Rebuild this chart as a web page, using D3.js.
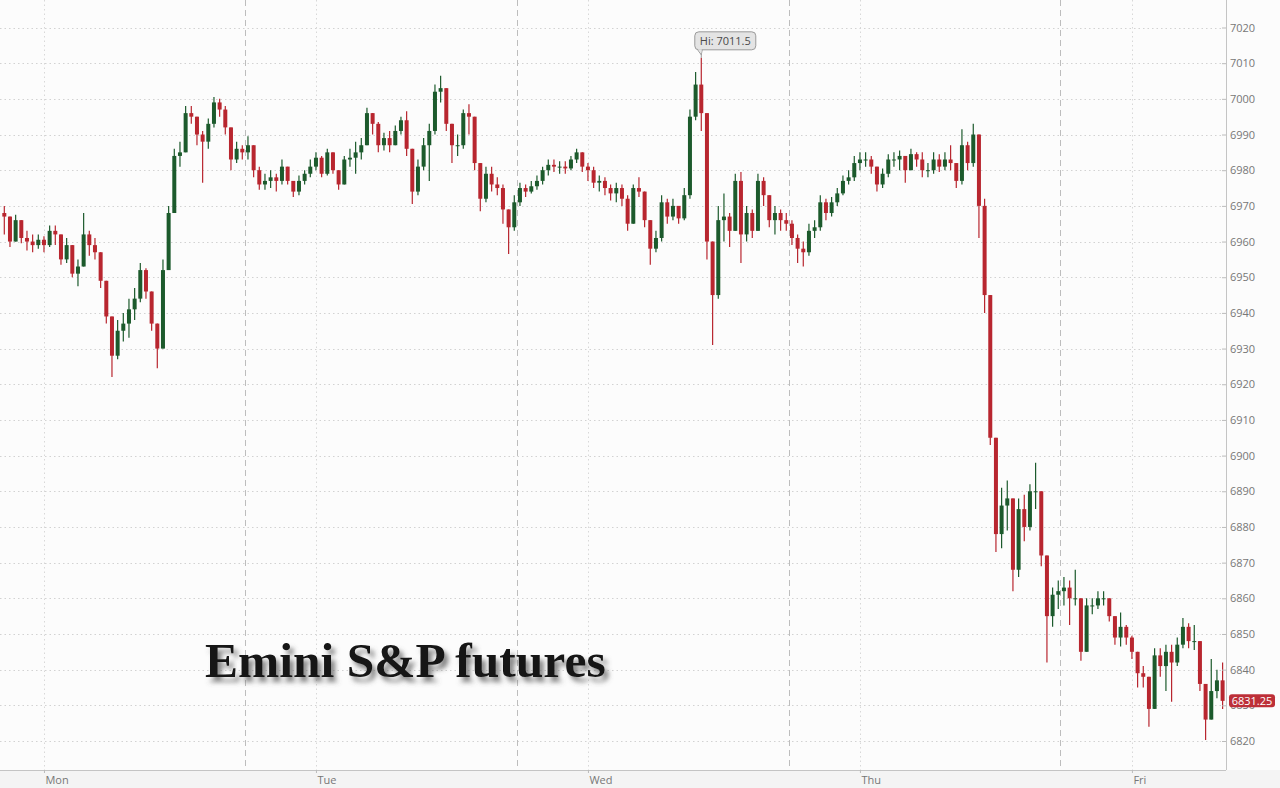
<!DOCTYPE html>
<html>
<head>
<meta charset="utf-8">
<script src="https://cdn.jsdelivr.net/npm/d3@7"></script>
<style>
  html, body { margin: 0; padding: 0; background: #fcfcfc; }
  svg { display: block; }
  .axis text { font-family: "Open Sans", "Noto Sans", sans-serif; font-size: 11px; fill: #777; }
</style>
</head>
<body>
<div class="graph"><svg id="chart"></svg></div>
<script>
'use strict'

// half-hour candles, hours counted from Monday 00:00
const firstCandleHour = -3.5
const candleHours = 0.5
const firstOpen = 6968

const closes = [
  6967, 6960, 6966, 6961, 6960, 6959, 6960.5, 6959, 6963, 6962, 6955, 6959, 6951, 6953, 6962, 6959,
  6957, 6949, 6939, 6928, 6935, 6937, 6941, 6944, 6952, 6946, 6937, 6930, 6952, 6968, 6984, 6985,
  6996, 6995, 6990, 6988, 6993, 6999, 6997, 6992, 6983, 6986, 6985, 6987, 6980, 6976, 6977, 6978,
  6977, 6981, 6977, 6974, 6977, 6979, 6981, 6983.5, 6979, 6985, 6980, 6976, 6983, 6983.5, 6985, 6987,
  6996, 6993, 6987, 6989, 6987, 6991, 6994, 6986, 6974, 6981, 6987, 6991, 7002, 7003, 6993, 6987,
  6987, 6996, 6995, 6982, 6972, 6979, 6976, 6975, 6969, 6964, 6971, 6975, 6974, 6975.5, 6977, 6980,
  6981.5, 6981, 6981, 6980.5, 6983, 6985, 6981, 6980, 6976.5, 6977, 6975, 6973.5, 6975, 6972, 6965, 6975,
  6974, 6966, 6958, 6961, 6971, 6967, 6970, 6966.5, 6973, 6995, 7004, 6996, 6960, 6945, 6966, 6967,
  6963, 6977, 6962, 6968, 6963, 6977, 6973, 6966, 6968, 6966, 6965, 6961, 6958, 6957, 6963, 6964,
  6971, 6968, 6971, 6973.5, 6977, 6978, 6982, 6983, 6983, 6981, 6976, 6979, 6983, 6983, 6984, 6980,
  6984.5, 6983, 6980, 6980, 6983, 6981, 6983, 6982, 6977, 6987, 6982, 6990, 6970, 6945, 6905, 6878,
  6886, 6888, 6868, 6885, 6880, 6890, 6890, 6872, 6855, 6861, 6862, 6863, 6860, 6860, 6845, 6858,
  6858, 6860, 6860, 6855, 6849, 6852, 6849, 6845, 6839, 6838, 6829, 6844, 6841, 6845, 6842, 6847,
  6852, 6848, 6848, 6836, 6826, 6834, 6837, 6831.25
]

const highs = [
  6970, 6966, 6967.5, 6966, 6963, 6962, 6962, 6961.5, 6964.5, 6964.5, 6962, 6961, 6959, 6955, 6968, 6963,
  6961, 6957, 6949, 6939, 6938, 6940, 6944, 6947, 6954, 6952.5, 6946, 6937, 6955, 6970, 6986, 6988,
  6998, 6998, 6995, 6991, 6994.5, 7000.5, 7000, 6998, 6992, 6988, 6987, 6989.5, 6987, 6981, 6979, 6980,
  6979, 6983, 6981, 6977, 6978.5, 6980, 6983, 6985, 6984, 6986, 6985, 6980, 6984, 6986, 6988, 6989,
  6997.5, 6996, 6993.5, 6990.5, 6991, 6992.5, 6995, 6996.5, 6986, 6983, 6989, 6993, 7004, 7006.5, 7003, 6993,
  6990, 6997, 6998.5, 6995, 6982, 6981, 6981, 6978, 6976, 6968, 6973, 6976.5, 6976, 6977, 6978.5, 6981,
  6983, 6983, 6982.5, 6982.5, 6984, 6986, 6985, 6982, 6981, 6978.5, 6978, 6976, 6976.5, 6976, 6973, 6976,
  6978, 6974, 6966, 6963, 6973, 6972, 6972, 6970, 6975, 6997, 7007.5, 7011.5, 6996, 6960, 6970, 6973.5,
  6968, 6979, 6979.5, 6970, 6969, 6979, 6978, 6973, 6970, 6969, 6968, 6966, 6962, 6960, 6965, 6966,
  6973, 6972, 6972.5, 6975, 6978.5, 6980, 6984, 6985, 6985, 6984, 6981, 6980.5, 6984.5, 6985, 6985.5, 6984,
  6986, 6985, 6985, 6982, 6985, 6984.5, 6985, 6987, 6982, 6991.5, 6988, 6993, 6990, 6972, 6945, 6905,
  6891, 6893, 6888, 6888, 6889, 6892, 6898, 6890, 6872, 6863, 6865, 6866, 6865, 6868, 6860, 6860,
  6860, 6862, 6862, 6860, 6855, 6856, 6852.5, 6849.5, 6845, 6841, 6838, 6846, 6846, 6847, 6847, 6849,
  6854.5, 6853, 6852.5, 6848, 6836, 6843, 6840, 6842
]

const lows = [
  6962, 6958.5, 6960, 6959.5, 6957.5, 6957, 6958, 6957, 6958.5, 6959, 6953.5, 6954, 6950, 6947.5, 6953, 6956,
  6955, 6947, 6937, 6922, 6927, 6932, 6933, 6938, 6943, 6944, 6935, 6924.5, 6930, 6952, 6968, 6981,
  6985, 6993, 6987, 6976.5, 6986, 6992, 6995, 6990, 6980, 6982, 6983, 6983, 6978, 6974.5, 6974.5, 6975,
  6974, 6976, 6976, 6972.5, 6973, 6976, 6978, 6980, 6978, 6978.5, 6979, 6974.5, 6976, 6981, 6979, 6983,
  6987, 6990, 6985, 6985.5, 6985, 6987, 6990, 6984, 6970.5, 6973, 6980, 6977, 6990, 6999, 6991, 6982,
  6984, 6986, 6990, 6980, 6968.5, 6971, 6974, 6973, 6965, 6956.5, 6963, 6970, 6972.5, 6973.5, 6974.5, 6976,
  6978.5, 6979.5, 6979, 6979, 6980, 6982, 6979.5, 6977, 6975, 6974, 6973, 6971.5, 6971, 6970, 6963, 6965,
  6972.5, 6964, 6953.5, 6957, 6960, 6965, 6966, 6965, 6966, 6972, 6994, 6991, 6955, 6931, 6944, 6960,
  6958.5, 6963, 6954, 6960, 6961, 6963, 6970, 6964, 6962, 6963, 6963, 6959, 6954, 6953, 6956, 6961,
  6963, 6966, 6967, 6970, 6973, 6976, 6977, 6980, 6981, 6979, 6974, 6975, 6978, 6981, 6980, 6976.5,
  6980, 6981, 6978, 6978, 6979, 6979.5, 6980, 6980, 6975, 6976, 6980, 6981, 6961, 6940, 6903, 6873,
  6874, 6879, 6862, 6866, 6876, 6879, 6885, 6869, 6842, 6852, 6857, 6858, 6852.5, 6858, 6842.5, 6845,
  6855.5, 6857, 6858, 6853.5, 6847, 6846.5, 6847, 6843, 6835, 6835, 6824, 6829, 6838, 6834, 6831, 6841,
  6846, 6846, 6845.5, 6834, 6820.3, 6826, 6832, 6829
]

const yTicks = [6820, 6830, 6840, 6850, 6860, 6870, 6880, 6890, 6900, 6910, 6920,
  6930, 6940, 6950, 6960, 6970, 6980, 6990, 7000, 7010, 7020]
const dayLabels = ['Mon', 'Tue', 'Wed', 'Thu', 'Fri']
const dayHours = [0, 24, 48, 72, 96]
const sessionBreaks = [17.75, 41.75, 65.75, 89.65]
const chartTitle = 'Emini S&P futures'

const svgSize = { width: 1280, height: 788 }
const plot = { left: 0, right: 1226, top: 0, bottom: 770 }

const upColor = '#1c5a2c'
const downColor = '#b8262f'

const candles = closes.map((c, i) => ({
  t: firstCandleHour + i * candleHours,
  open: i === 0 ? firstOpen : closes[i - 1],
  close: c,
  high: highs[i],
  low: lows[i]
}))

const svg = d3.select('#chart')
  .attr('width', svgSize.width)
  .attr('height', svgSize.height)

svg.append('rect')
  .attr('width', svgSize.width).attr('height', svgSize.height)
  .attr('fill', '#fcfcfc')
svg.append('rect')
  .attr('x', 0).attr('y', plot.bottom)
  .attr('width', svgSize.width).attr('height', svgSize.height - plot.bottom)
  .attr('fill', '#f4f4f4')

const xScale = d3.scaleLinear()
  .domain([-3.88, 104.3])
  .range([plot.left, plot.right])

const yScale = d3.scaleLinear()
  .domain([6820, 7020])
  .range([741, 27.5])

// grid
const grid = svg.append('g').attr('class', 'grid')
grid.selectAll('.hgrid')
  .data(yTicks)
  .enter().append('line')
  .attr('x1', plot.left).attr('x2', plot.right - 4)
  .attr('y1', d => Math.round(yScale(d)) + 0.5)
  .attr('y2', d => Math.round(yScale(d)) + 0.5)
  .attr('stroke', '#d2d2d2')
  .attr('stroke-dasharray', '1.5,3')

grid.selectAll('.vgrid')
  .data(dayHours)
  .enter().append('line')
  .attr('x1', d => Math.round(xScale(d)) + 0.5)
  .attr('x2', d => Math.round(xScale(d)) + 0.5)
  .attr('y1', plot.top).attr('y2', plot.bottom)
  .attr('stroke', '#d8d8d8')
  .attr('stroke-dasharray', '1.5,3')

grid.selectAll('.sess')
  .data(sessionBreaks)
  .enter().append('line')
  .attr('x1', d => Math.round(xScale(d)) + 0.5)
  .attr('x2', d => Math.round(xScale(d)) + 0.5)
  .attr('y1', plot.top).attr('y2', plot.bottom)
  .attr('stroke', '#bdbdbd')
  .attr('stroke-dasharray', '6,4')

// title with soft shadow
const defs = svg.append('defs')
const shadow = defs.append('filter').attr('id', 'titleShadow')
  .attr('x', '-10%').attr('y', '-30%').attr('width', '130%').attr('height', '180%')
shadow.append('feGaussianBlur').attr('in', 'SourceAlpha').attr('stdDeviation', 2.8).attr('result', 'blur')
shadow.append('feOffset').attr('in', 'blur').attr('dx', 4).attr('dy', 5).attr('result', 'off')
shadow.append('feFlood').attr('flood-color', '#5a5a5a').attr('flood-opacity', 0.75)
shadow.append('feComposite').attr('in2', 'off').attr('operator', 'in')
const merge = shadow.append('feMerge')
merge.append('feMergeNode')
merge.append('feMergeNode').attr('in', 'SourceGraphic')

svg.append('text')
  .text(chartTitle)
  .attr('x', 205).attr('y', 677)
  .attr('font-family', '"Liberation Serif", "Times New Roman", serif')
  .attr('font-weight', 'bold')
  .attr('font-size', 49.5)
  .attr('fill', '#121212')
  .attr('filter', 'url(#titleShadow)')

// candles
const bodyWidth = 4
const cg = svg.append('g').attr('class', 'candles')
const candle = cg.selectAll('g')
  .data(candles)
  .enter().append('g')

candle.append('line')
  .attr('x1', d => xScale(d.t)).attr('x2', d => xScale(d.t))
  .attr('y1', d => yScale(Math.max(d.high, d.open, d.close)))
  .attr('y2', d => yScale(Math.min(d.low, d.open, d.close)))
  .attr('stroke', d => d.close >= d.open ? upColor : downColor)
  .attr('stroke-width', 1.2)

candle.append('rect')
  .attr('x', d => xScale(d.t) - bodyWidth / 2)
  .attr('width', bodyWidth)
  .attr('y', d => yScale(Math.max(d.open, d.close)))
  .attr('height', d => Math.max(1, Math.abs(yScale(d.open) - yScale(d.close))))
  .attr('fill', d => d.close >= d.open ? upColor : downColor)

// axes
const yAxis = svg.append('g')
  .attr('class', 'y axis')
  .attr('transform', 'translate(' + plot.right + ',0)')
  .call(d3.axisRight(yScale).tickValues(yTicks).tickSize(-4).tickPadding(4).tickFormat(d3.format('d')))
yAxis.select('.domain').attr('stroke', '#c4c4c4').attr('d', 'M0.5,0V' + plot.bottom)
yAxis.selectAll('.tick line').attr('stroke', '#bbb')

const xAxis = svg.append('g')
  .attr('class', 'x axis')
  .attr('transform', 'translate(0,' + plot.bottom + ')')
  .call(d3.axisBottom(xScale).tickValues(dayHours).tickSize(3).tickPadding(3)
    .tickFormat((d, i) => dayLabels[i]))
xAxis.select('.domain').attr('stroke', '#c4c4c4').attr('d', 'M0,0.5H' + plot.right)
xAxis.selectAll('.tick line').attr('stroke', '#bbb')
xAxis.selectAll('.tick text').attr('text-anchor', 'start').attr('x', 1).attr('dy', '0.71em')

// high marker
const hiCandle = candles.reduce((a, b) => (b.high > a.high ? b : a))
const hx = xScale(hiCandle.t)
const hy = yScale(hiCandle.high)
const hi = svg.append('g').attr('class', 'hi-label')
hi.append('line')
  .attr('x1', hx).attr('x2', hx).attr('y1', hy - 6).attr('y2', hy)
  .attr('stroke', '#999')
hi.append('path')
  .attr('d', 'M' + (hx - 4) + ',' + (hy - 8.5) + 'L' + hx + ',' + (hy - 3) + 'L' + (hx + 1) + ',' + (hy - 8.5))
  .attr('fill', '#e4e4e4').attr('stroke', '#9a9a9a')
hi.append('rect')
  .attr('x', hx - 6.5).attr('y', hy - 26).attr('width', 61).attr('height', 18).attr('rx', 4)
  .attr('fill', '#e4e4e4').attr('stroke', '#9a9a9a')
hi.append('path')
  .attr('d', 'M' + (hx - 3.5) + ',' + (hy - 8.5) + 'L' + hx + ',' + (hy - 4) + 'L' + (hx + 0.5) + ',' + (hy - 8.5) + 'Z')
  .attr('fill', '#e4e4e4')
hi.append('text')
  .text('Hi: ' + hiCandle.high)
  .attr('x', hx + 24).attr('y', hy - 13)
  .attr('text-anchor', 'middle')
  .attr('font-family', '"Open Sans", "Noto Sans", sans-serif')
  .attr('font-size', 11)
  .attr('fill', '#4a4a4a')

// last price tag
const last = candles[candles.length - 1].close
const ly = yScale(last)
svg.append('rect')
  .attr('x', plot.right + 3).attr('y', ly - 6.5).attr('width', 46).attr('height', 13).attr('rx', 3)
  .attr('fill', '#bd2f38')
svg.append('text')
  .text(d3.format('.2f')(last))
  .attr('x', plot.right + 26).attr('y', ly)
  .attr('dy', '0.36em')
  .attr('text-anchor', 'middle')
  .attr('font-family', '"Open Sans", "Noto Sans", sans-serif')
  .attr('font-size', 11)
  .attr('fill', '#fff')
</script>
</body>
</html>
